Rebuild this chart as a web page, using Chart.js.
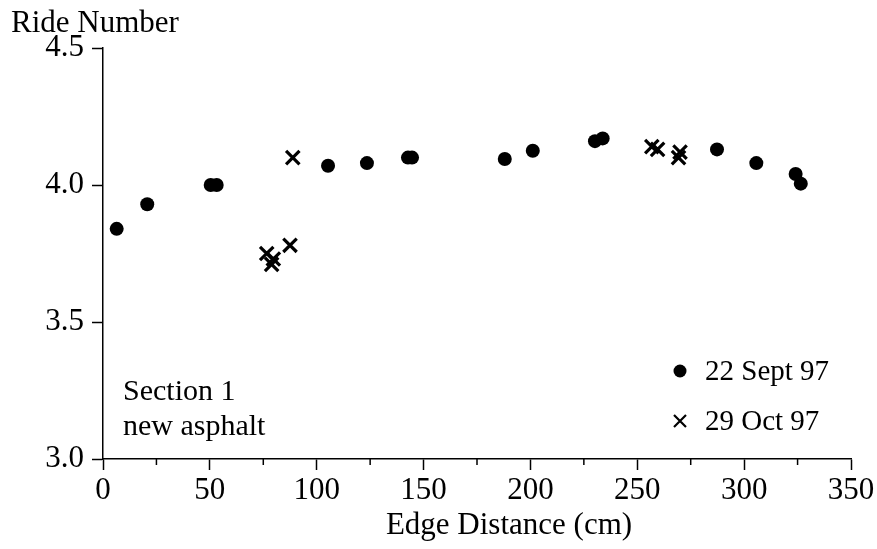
<!DOCTYPE html>
<html>
<head>
<meta charset="utf-8">
<script src="https://cdn.jsdelivr.net/npm/chart.js@4/dist/chart.umd.min.js"></script>
<style>
  body { margin: 0; background: #fff; }
  canvas { display: block; }
</style>
</head>
<body>
<canvas id="rideChart" width="877" height="549"></canvas>
<script>
// 22 Sept 97 readings
var septDistance = [6.4, 20.7, 50.4, 53.2, 105.3, 123.5, 142.7, 144.6, 188.0, 201.1, 230.2, 233.8, 287.3, 305.7, 324.1, 326.5];
var septRide = [3.84, 3.93, 4.00, 4.00, 4.07, 4.08, 4.10, 4.10, 4.095, 4.125, 4.16, 4.17, 4.13, 4.08, 4.04, 4.005];

// 29 Oct 97 readings
var octDistance = [76.6, 78.9, 79.7, 87.5, 88.8, 256.8, 259.5, 270.0, 269.3];
var octRide = [3.75, 3.71, 3.73, 3.78, 4.10, 4.14, 4.13, 4.12, 4.10];

var xTicks = [0, 50, 100, 150, 200, 250, 300, 350];
var xMinorTicks = [25, 75, 125, 175, 225, 275, 325];
var yTicks = [3.0, 3.5, 4.0, 4.5];
var seriesLabels = ['22 Sept 97', '29 Oct 97'];
var noteLines = ['Section 1', 'new asphalt'];

var serif = "'Liberation Serif', 'DejaVu Serif', serif";
Chart.defaults.font.family = serif;
Chart.defaults.color = '#000';

function toPoints(xs, ys) {
    return xs.map(function (x, i) { return { x: x, y: ys[i] }; });
}

// minor x ticks, axis titles, note text and legend
var extras = {
    id: 'extras',
    afterDraw: function (chart) {
        var ctx = chart.ctx;
        var xs = chart.scales.x;
        var bottom = chart.chartArea.bottom;
        ctx.save();
        ctx.strokeStyle = '#000';
        ctx.lineWidth = 1.5;
        xMinorTicks.forEach(function (v) {
            var px = xs.getPixelForValue(v);
            ctx.beginPath();
            ctx.moveTo(px, bottom);
            ctx.lineTo(px, bottom + 6);
            ctx.stroke();
        });

        ctx.fillStyle = '#000';
        ctx.font = '31px ' + serif;
        ctx.textAlign = 'left';
        ctx.textBaseline = 'alphabetic';
        ctx.fillText('Ride Number', 11, 32);

        ctx.textAlign = 'center';
        ctx.fillText('Edge Distance (cm)', 509, 534);

        ctx.textAlign = 'left';
        ctx.font = '30px ' + serif;
        ctx.fillText(noteLines[0], 123, 400);
        ctx.fillText(noteLines[1], 123, 435);

        // legend
        ctx.font = '29px ' + serif;
        ctx.beginPath();
        ctx.arc(680, 371, 6.5, 0, Math.PI * 2);
        ctx.fill();
        ctx.fillText(seriesLabels[0], 705, 380);

        ctx.lineWidth = 2.2;
        ctx.beginPath();
        ctx.moveTo(674, 415); ctx.lineTo(686, 427);
        ctx.moveTo(686, 415); ctx.lineTo(674, 427);
        ctx.stroke();
        ctx.fillText(seriesLabels[1], 705, 430);
        ctx.restore();
    }
};

var ctx = document.getElementById('rideChart').getContext('2d');
var rideChart = new Chart(ctx, {
    type: 'scatter',
    data: {
        datasets: [{
            label: seriesLabels[0],
            data: toPoints(septDistance, septRide),
            pointStyle: 'circle',
            pointRadius: 7,
            pointBackgroundColor: '#000',
            pointBorderWidth: 0
        }, {
            label: seriesLabels[1],
            data: toPoints(octDistance, octRide),
            pointStyle: 'crossRot',
            pointRadius: 9.5,
            pointBorderColor: '#000',
            pointBorderWidth: 3.2
        }]
    },
    options: {
        responsive: false,
        animation: false,
        layout: { padding: { left: 0, top: 48, right: 26, bottom: 0 } },
        plugins: {
            legend: { display: false },
            tooltip: { enabled: false }
        },
        scales: {
            x: {
                type: 'linear',
                min: 0,
                max: 350,
                afterBuildTicks: function (scale) {
                    scale.ticks = xTicks.map(function (v) { return { value: v }; });
                },
                afterFit: function (scale) { scale.height = 90; },
                border: { color: '#000', width: 1.5 },
                grid: { drawOnChartArea: false, tickLength: 11, tickColor: '#000', tickWidth: 1.5 },
                ticks: { font: { size: 31 }, padding: 2, maxRotation: 0 }
            },
            y: {
                type: 'linear',
                min: 3.0,
                max: 4.5,
                afterBuildTicks: function (scale) {
                    scale.ticks = yTicks.map(function (v) { return { value: v }; });
                },
                afterFit: function (scale) { scale.width = 103; },
                border: { color: '#000', width: 1.5 },
                grid: { drawOnChartArea: false, tickLength: 11, tickColor: '#000', tickWidth: 1.5 },
                ticks: {
                    font: { size: 31 },
                    padding: 8,
                    callback: function (v) { return v.toFixed(1); }
                }
            }
        }
    },
    plugins: [extras]
});
</script>
</body>
</html>
